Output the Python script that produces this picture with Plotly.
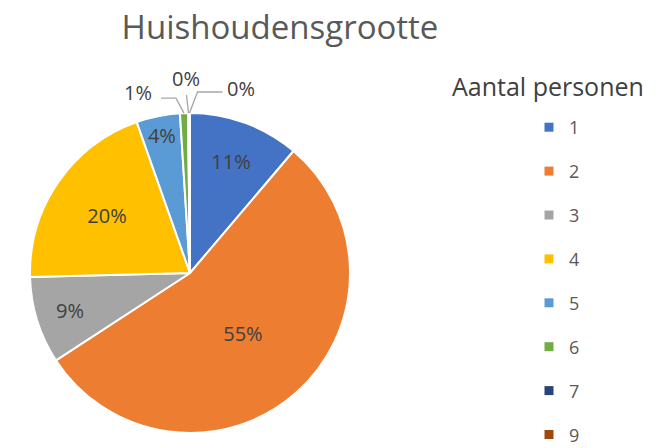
import math
import plotly.graph_objects as go

categories = ["1", "2", "3", "4", "5", "6", "7", "9"]
shares = [11.2, 54.6, 8.8, 20.0, 4.4, 0.8, 0.1, 0.1]
colors = ["#4472C4", "#ED7D31", "#A5A5A5", "#FFC000", "#5B9BD5", "#70AD47", "#264478", "#9E480E"]
title_text = "Huishoudensgrootte"
legend_title = "Aantal personen"

W, H = 669, 448
FONT = "'Open Sans', sans-serif"
LABEL_COLOR = "#404040"

# pie geometry (pixels)
CX, CY, R = 190, 273, 160

small = [s < 2 for s in shares]
total = sum(shares)
pct_text = [f"{round(100 * s / total)}%" for s in shares]

fig = go.Figure()
fig.add_trace(go.Pie(
    labels=categories,
    values=shares,
    sort=False,
    direction="clockwise",
    rotation=0,
    marker=dict(colors=colors, line=dict(color="white", width=2)),
    text=pct_text,
    texttemplate=["" if sm else "%{text}" for sm in small],
    textinfo="text",
    textposition=["none" if sm else "inside" for sm in small],
    insidetextorientation="horizontal",
    textfont=dict(family=FONT, size=20, color=LABEL_COLOR),
    showlegend=False,
    hoverinfo="label+percent",
    domain=dict(x=[(CX - R) / W, (CX + R) / W], y=[(H - CY - R) / H, (H - CY + R) / H]),
))

# legend entries (one group each, so spacing can be controlled)
for cat, col in zip(categories, colors):
    fig.add_trace(go.Scatter(
        x=[None], y=[None], mode="markers", name=cat, legendgroup=cat,
        marker=dict(symbol="square", size=9, color=col),
        hoverinfo="skip",
    ))

# leader lines + outside labels for the small slices (positions derived from the data)
leader_style = [
    dict(elbow=(-8, -15), end=(-23, -15), label=(-30, -21), anchor="right"),
    dict(elbow=(-2, -18), end=(-2, -18), label=(-2, -35), anchor="center"),
    dict(elbow=(8, -21), end=(33, -21), label=(36, -25), anchor="left"),
]
shapes, annotations = [], []
cum = 0.0
k = 0
for s, sm, txt in zip(shares, small, pct_text):
    mid = (cum + s / 2) / total * 2 * math.pi
    cum += s
    if not sm:
        continue
    st = leader_style[k]
    k += 1
    ex, ey = CX + R * math.sin(mid), CY - R * math.cos(mid)
    pts = [(ex, ey), (ex + st["elbow"][0], ey + st["elbow"][1]), (ex + st["end"][0], ey + st["end"][1])]
    path = "M " + " L ".join(f"{px / W},{1 - py / H}" for px, py in pts)
    shapes.append(dict(type="path", path=path, xref="paper", yref="paper",
                       line=dict(color="#A6A6A6", width=1.3)))
    annotations.append(dict(text=txt, x=(ex + st["label"][0]) / W, y=1 - (ey + st["label"][1]) / H,
                            xref="paper", yref="paper", xanchor=st["anchor"], yanchor="middle",
                            showarrow=False, font=dict(family=FONT, size=20, color=LABEL_COLOR)))

annotations.append(dict(text=legend_title, x=548 / W, y=1 - 86 / H, xref="paper", yref="paper",
                        xanchor="center", yanchor="middle", showarrow=False,
                        font=dict(family=FONT, size=25, color=LABEL_COLOR)))

fig.update_layout(
    width=W, height=H,
    margin=dict(l=0, r=0, t=0, b=0, autoexpand=False),
    paper_bgcolor="white", plot_bgcolor="white",
    font=dict(family=FONT, color="#595959"),
    title=dict(text=title_text, x=280 / W, xanchor="center", y=1 - 27 / H, yanchor="middle",
               font=dict(family=FONT, size=33, color="#595959")),
    xaxis=dict(visible=False), yaxis=dict(visible=False),
    uniformtext=dict(minsize=20, mode="show"),
    legend=dict(x=529 / W, xanchor="left", y=1 - 109 / H, yanchor="top",
                font=dict(family=FONT, size=18, color="#595959"),
                tracegroupgap=17.5, bgcolor="rgba(0,0,0,0)", itemclick=False),
    shapes=shapes,
    annotations=annotations,
)

fig.write_html("out.html", config={"displayModeBar": False},
               post_script="document.body.style.margin='0';")
